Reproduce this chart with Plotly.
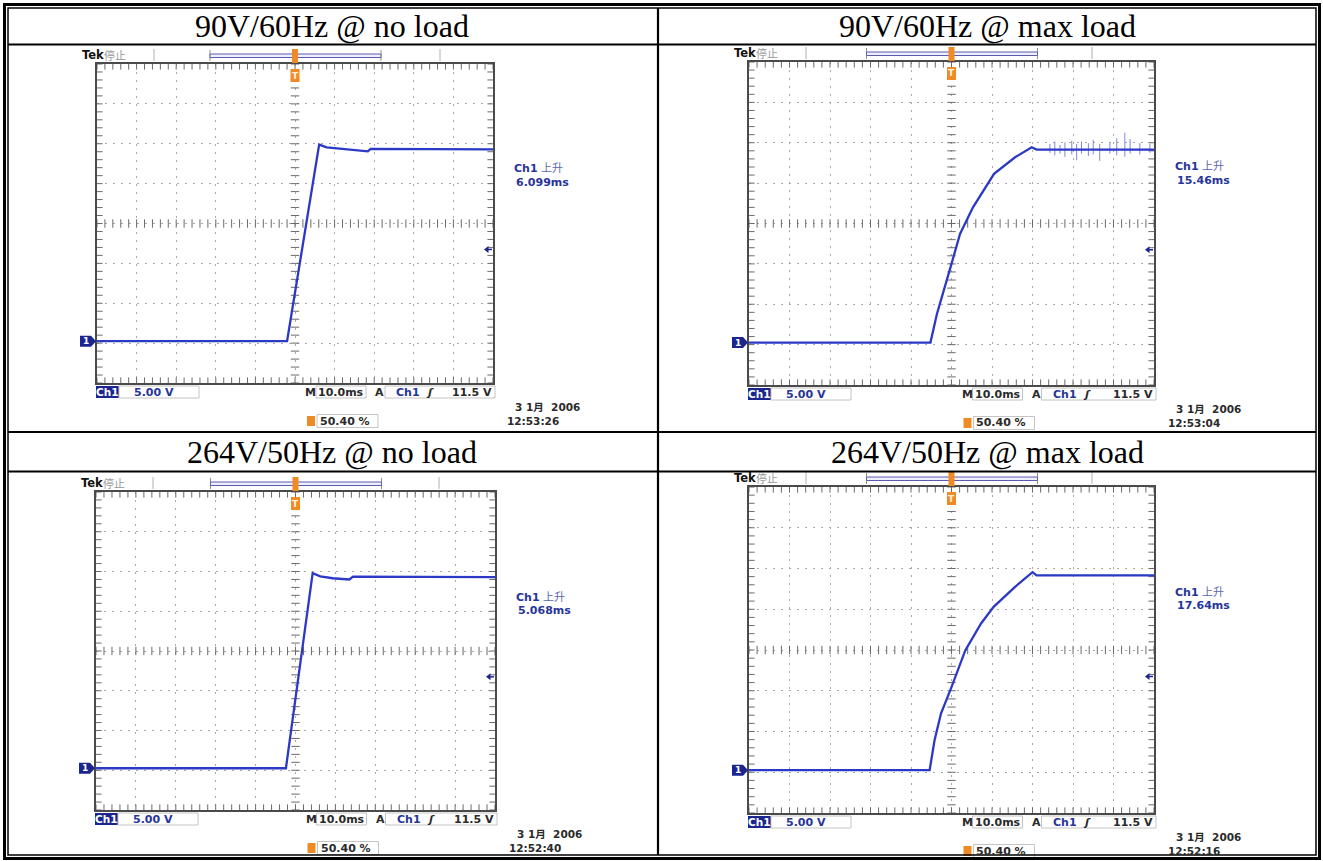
import numpy as np
import plotly.graph_objects as go

W, H = 1323, 861

# ---------------- data ----------------
titles = ["90V/60Hz @ no load", "90V/60Hz @ max load",
          "264V/50Hz @ no load", "264V/50Hz @ max load"]
rise_times = ["6.099ms", "15.46ms", "5.068ms", "17.64ms"]
clock_times = ["12:53:26", "12:53:04", "12:52:40", "12:52:16"]
date_text = "3 1月  2006"
scale_text = "5.00 V"
timebase_text = "10.0ms"
trig_level_text = "11.5 V"
trig_pos_text = "50.40 %"
trig_level_v = 11.5

# time in ms (10 ms/div), voltage in V above ground (5 V/div)
t1 = [-50, -2.0, 6.1, 8.0, 18.4, 19.1, 50]
v1 = [0.0, 0.0, 24.65, 24.3, 23.8, 24.1, 24.05]

t2 = [-50, -5.2, -3.6, -2.0, 0.0, 2.1, 5.3, 10.5, 15.7, 19.8, 21.0, 50]
v2 = [0.0, 0.0, 3.55, 6.45, 9.75, 13.45, 16.75, 20.9, 22.95, 24.2, 23.9, 23.9]

t3 = [-50, -2.4, 4.3, 6.2, 9.3, 13.5, 14.4, 50]
v3 = [0.0, 0.0, 24.55, 24.15, 23.9, 23.75, 24.1, 24.05]

t4 = [-50, -5.4, -4.2, -2.6, 0.0, 3.4, 7.3, 10.4, 15.7, 20.0, 21.0, 50]
v4 = [0.0, 0.0, 3.65, 6.95, 10.2, 14.7, 18.0, 20.05, 22.5, 24.3, 23.9, 23.9]

spike_t = [24.3, 25.5, 26.8, 28.0, 29.7, 30.9, 32.1, 33.8, 35.0, 36.6, 39.1, 40.8, 42.8, 44.1, 46.5, 49.0]
spike_hi = [24.6, 24.9, 24.5, 24.8, 25.0, 24.6, 24.9, 24.7, 25.1, 24.6, 24.8, 25.3, 26.0, 25.2, 24.7, 24.6]
spike_lo = [23.5, 23.2, 23.4, 23.0, 23.3, 22.6, 23.4, 23.1, 23.3, 22.5, 23.4, 23.2, 23.0, 23.4, 23.3, 23.5]

waves = [(t1, v1), (t2, v2), (t3, v3), (t4, v4)]

T_RANGE = (-50.0, 50.0)
V_RANGE = (-5.25, 34.75)
V_CENTER = 14.75

# ---------------- layout (pixel boxes of the scope grids) ----------------
boxes = [(97, 493, 64, 383), (749, 1154, 62, 385), (96, 495, 492, 810), (749, 1154, 487, 813)]
title_pos = [(332, 26), (987, 26), (332, 452), (987, 452)]

SANS = "DejaVu Sans, Noto Sans CJK SC"
CJK = "Noto Sans CJK SC"
BLUE = "#2b39c6"
TXT_BLUE = "#27359a"
NAVY = "#1b2590"
ORANGE = "#f08a24"
DARK = "#2a2a2a"


def X(p):
    return p / W


def Y(p):
    return 1 - p / H


shapes = []
ann = []


def line(x0, y0, x1, y1, color="#000", width=1):
    shapes.append(dict(type="line", xref="paper", yref="paper", x0=X(x0), y0=Y(y0),
                       x1=X(x1), y1=Y(y1), line=dict(color=color, width=width)))


def rect(x0, y0, x1, y1, lc=None, fill=None, width=1):
    shapes.append(dict(type="rect", xref="paper", yref="paper", x0=X(x0), y0=Y(y0),
                       x1=X(x1), y1=Y(y1), fillcolor=fill or "rgba(0,0,0,0)",
                       line=dict(color=lc or "rgba(0,0,0,0)", width=width if lc else 0)))


def path(pts, fill):
    d = "M " + " L ".join(f"{X(a)},{Y(b)}" for a, b in pts) + " Z"
    shapes.append(dict(type="path", xref="paper", yref="paper", path=d, fillcolor=fill,
                       line=dict(width=0)))


def text(x, y, s, size=11, color=DARK, anchor="left", family=SANS):
    ann.append(dict(xref="paper", yref="paper", x=X(x), y=Y(y), text=s, showarrow=False,
                    xanchor=anchor, yanchor="middle", borderpad=0,
                    font=dict(size=size, color=color, family=family)))


fig = go.Figure()

xt = np.arange(T_RANGE[0], T_RANGE[1] + 0.01, 2.0)
yt = np.arange(V_RANGE[0], V_RANGE[1] + 0.01, 1.0)

for i, ((L, R, T, B), (tw, vw)) in enumerate(zip(boxes, waves)):
    n = "" if i == 0 else str(i + 1)
    xa, ya = "x" + n, "y" + n
    C = (L + R) / 2
    vpx = lambda v, T=T, B=B: T + (V_RANGE[1] - v) / (V_RANGE[1] - V_RANGE[0]) * (B - T)

    fig.update_layout(**{
        "xaxis" + n: dict(domain=[X(L), X(R)], range=list(T_RANGE), anchor=ya,
                          showgrid=True, gridcolor="#a9a9a9", griddash="2px,6px", gridwidth=1,
                          tick0=0, dtick=10, showticklabels=False, ticks="", zeroline=False,
                          showline=True, mirror=True, linecolor="#4a4a4a", linewidth=2, fixedrange=True),
        "yaxis" + n: dict(domain=[Y(B), Y(T)], range=list(V_RANGE), anchor=xa,
                          showgrid=True, gridcolor="#a9a9a9", griddash="2px,6px", gridwidth=1,
                          tick0=V_CENTER, dtick=5, showticklabels=False, ticks="", zeroline=False,
                          showline=True, mirror=True, linecolor="#4a4a4a", linewidth=2, fixedrange=True),
    })

    tick_style = dict(color="#6a6a6a", line=dict(color="#6a6a6a", width=1))
    # border ticks (half clipped -> inward)
    fig.add_trace(go.Scatter(x=np.concatenate([xt, xt]), y=[V_RANGE[1]] * len(xt) + [V_RANGE[0]] * len(xt),
                             mode="markers", marker=dict(symbol="line-ns", size=8, **tick_style),
                             xaxis=xa, yaxis=ya, hoverinfo="skip", showlegend=False))
    fig.add_trace(go.Scatter(x=[T_RANGE[0]] * len(yt) + [T_RANGE[1]] * len(yt), y=np.concatenate([yt, yt]),
                             mode="markers", marker=dict(symbol="line-ew", size=8, **tick_style),
                             xaxis=xa, yaxis=ya, hoverinfo="skip", showlegend=False))
    # centre cross ticks
    fig.add_trace(go.Scatter(x=xt, y=[V_CENTER] * len(xt), mode="markers",
                             marker=dict(symbol="line-ns", size=6, **tick_style),
                             xaxis=xa, yaxis=ya, hoverinfo="skip", showlegend=False))
    fig.add_trace(go.Scatter(x=[0] * len(yt), y=yt, mode="markers",
                             marker=dict(symbol="line-ew", size=6, **tick_style),
                             xaxis=xa, yaxis=ya, hoverinfo="skip", showlegend=False))

    if i == 1:
        sx, sy = [], []
        for t, hi, lo in zip(spike_t, spike_hi, spike_lo):
            sx += [t, t, None]
            sy += [lo, hi, None]
        fig.add_trace(go.Scatter(x=sx, y=sy, mode="lines", line=dict(color="#7f88dc", width=1),
                                 xaxis=xa, yaxis=ya, hoverinfo="skip", showlegend=False))

    fig.add_trace(go.Scatter(x=tw, y=vw, mode="lines", line=dict(color=BLUE, width=2.3),
                             xaxis=xa, yaxis=ya, hoverinfo="skip", showlegend=False))

    # ---- top status line ----
    text(L - 16, T - 9, "<b>Tek</b>", size=11.5, color="#111")
    text(L + 6, T - 9, "停止", size=11, color="#9a9a9a", family=CJK)
    line(L + 57, T - 15, L + 57, T - 3, "#b0b0b0", 1)
    line(L + 343, T - 15, L + 343, T - 3, "#b0b0b0", 1)
    line(C - 85, T - 14, C - 85, T - 3, "#909090", 1)
    line(C + 86, T - 14, C + 86, T - 3, "#909090", 1)
    rect(C - 85, T - 10, C + 86, T - 6.5, lc="#5b5bb0", fill="#eef0ff", width=1)
    rect(C - 3, T - 15, C + 3, T - 1, fill=ORANGE)
    rect(C - 4.5, T + 5, C + 4.5, T + 18, fill=ORANGE)
    text(C, T + 11.5, "<b>T</b>", size=9, color="#fff3e0", anchor="center")

    # ---- ground marker & trigger level arrow ----
    gy = vpx(0.0)
    path([(L - 17, gy - 5.5), (L - 6, gy - 5.5), (L - 1, gy), (L - 6, gy + 5.5), (L - 17, gy + 5.5)], NAVY)
    text(L - 11, gy, "<b>1</b>", size=9, color="white", anchor="center")
    ty = vpx(trig_level_v)
    path([(R - 9, ty), (R - 4.5, ty - 3.5), (R - 4.5, ty + 3.5)], NAVY)
    line(R - 5, ty, R - 1, ty, NAVY, 1.5)

    # ---- right-hand measurement ----
    text(R + 20, T + 105, "<b>Ch1</b> <span style='color:#5a64b0'>上升</span>", size=11, color=TXT_BLUE)
    text(R + 22, T + 118, "<b>" + rise_times[i] + "</b>", size=11, color=TXT_BLUE)

    # ---- bottom status lines ----
    r1 = B + 9
    rect(L - 1, r1 - 6, L + 22, r1 + 6, fill=NAVY)
    text(L + 10.5, r1, "<b>Ch1</b>", size=10.5, color="white", anchor="center")
    rect(L + 22, r1 - 6, L + 102, r1 + 6, lc="#c4c4c4", width=1)
    text(L + 36, r1, "<b>" + scale_text + "</b>", size=11, color=TXT_BLUE)
    text(C + 9, r1, "<b>M</b>", size=11, color=DARK)
    rect(C + 21, r1 - 6, C + 71, r1 + 6, lc="#c4c4c4", width=1)
    text(C + 22, r1, "<b>" + timebase_text + "</b>", size=11, color=DARK)
    text(C + 79, r1, "<b>A</b>", size=11, color=DARK)
    rect(C + 90, r1 - 6, R + 2, r1 + 6, lc="#c4c4c4", width=1)
    text(C + 100, r1, "<b>Ch1</b>", size=11, color=TXT_BLUE)
    text(C + 135, r1, "<b><i>ʃ</i></b>", size=11, color=DARK, anchor="center")
    text(R, r1, "<b>" + trig_level_text + "</b>", size=11, color=DARK, anchor="right")

    r2 = B + 38
    rect(C + 12, r2 - 5, C + 20, r2 + 5, fill=ORANGE)
    rect(C + 22, r2 - 6.5, C + 83, r2 + 6.5, lc="#c4c4c4", width=1)
    text(C + 24, r2, "<b>" + trig_pos_text + "</b>", size=11, color=DARK)
    text(R + 21, B + 24, "<b>" + date_text + "</b>", size=10.5, color=DARK)
    text(R + 13, B + 37.5, "<b>" + clock_times[i] + "</b>", size=10.5, color=DARK)

# ---------------- table frame ----------------
rect(4.5, 4.5, 1319.5, 858.5, lc="#000", width=3)
rect(8, 8, 1316, 855, lc="#000", width=1.5)
line(8, 44.5, 1316, 44.5, "#000", 2.2)
line(8, 432, 1316, 432, "#000", 2.2)
line(8, 471.5, 1316, 471.5, "#000", 2.2)
line(658, 8, 658, 855, "#000", 2.2)

for s, (cx, cy) in zip(titles, title_pos):
    text(cx, cy, s, size=32, color="#000", anchor="center", family="Liberation Serif, Times New Roman, serif")

fig.update_layout(width=W, height=H, margin=dict(l=0, r=0, t=0, b=0),
                  paper_bgcolor="white", plot_bgcolor="white",
                  shapes=shapes, annotations=ann, showlegend=False)

fig.write_html("out.html")
